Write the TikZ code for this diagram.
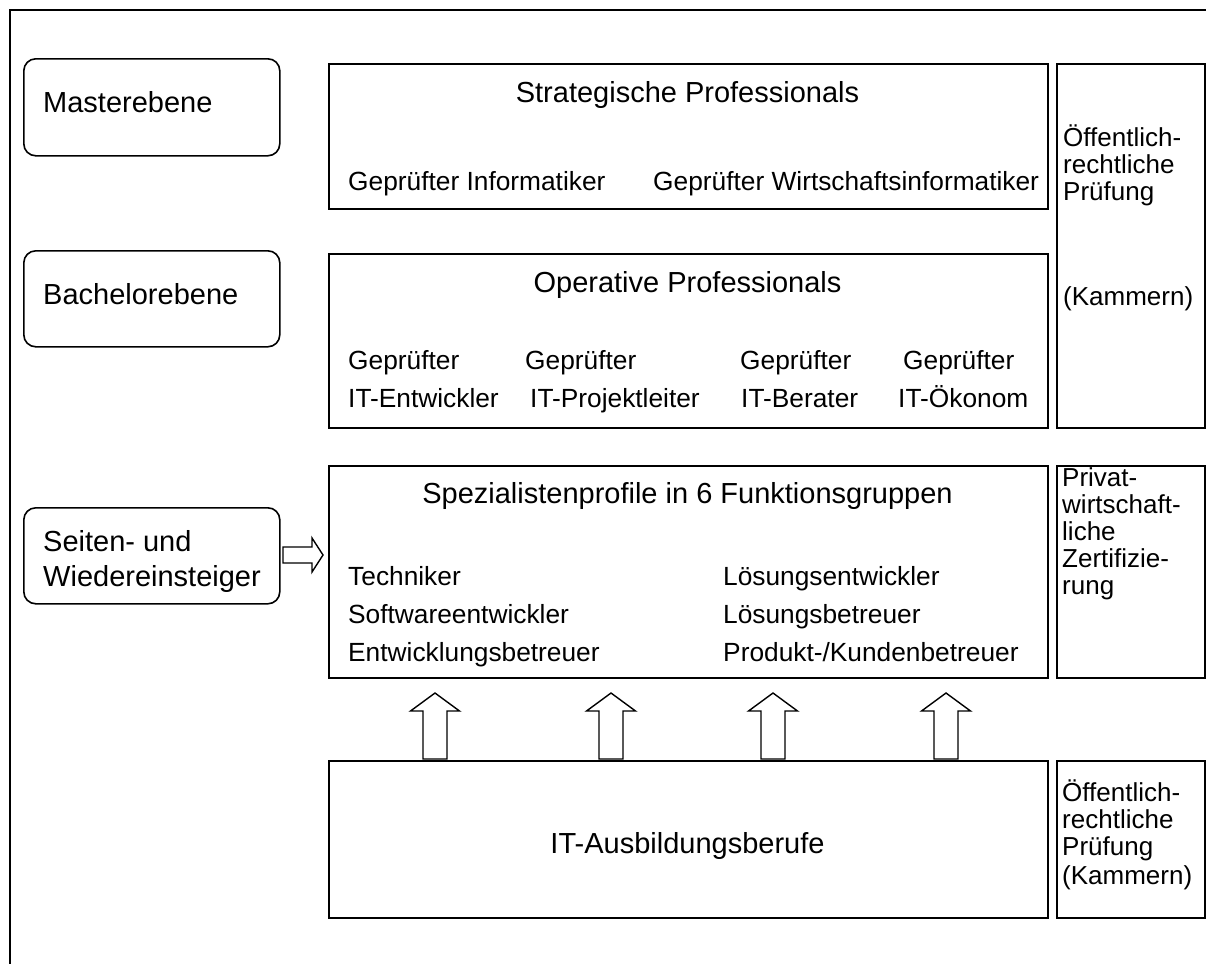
\documentclass[tikz,border=0pt]{standalone}
\usepackage{fontspec}
\setmainfont{Liberation Sans}
\begin{document}
\begin{tikzpicture}[x=1pt,y=-1pt,
  frame/.style={line width=1.8pt},
  box/.style={draw,line width=1.6pt,inner sep=0pt,anchor=north west},
  rbox/.style={box,rounded corners=12pt},
  ttl/.style={font=\fontsize{29}{34}\selectfont,inner sep=0pt,anchor=base},
  itm/.style={font=\fontsize{26.3}{30}\selectfont,inner sep=0pt,anchor=base west},
  lvl/.style={font=\fontsize{29}{34}\selectfont,inner sep=0pt,anchor=base west},
  side/.style={font=\fontsize{26}{30}\selectfont,inner sep=0pt,anchor=base west},
  blockarrow/.style={draw,line width=1.4pt,fill=white,line join=miter}]
\useasboundingbox (0,0) rectangle (1206,964);
% outer frame
\coordinate (fTL) at (10,10);
\coordinate (fTR) at (1206,10);
\coordinate (fBL) at (10,964);
\draw[frame] (fTR) -- (fTL) -- (fBL);

% left level boxes
\node[rbox,minimum width=256pt,minimum height=97pt] (master) at (23,58) {};
\node[rbox,minimum width=256pt,minimum height=96pt] (bachelor) at (23,250) {};
\node[rbox,minimum width=256pt,minimum height=96pt] (seiten) at (23,507) {};
\node[lvl] (tMaster) at (43,112) {Masterebene};
\node[lvl] (tBachelor) at (43,304) {Bachelorebene};
\node[lvl] (tSeiten1) at (43,551) {Seiten- und};
\node[lvl] (tSeiten2) at (43,586) {Wiedereinsteiger};

% main boxes
\node[box,minimum width=719pt,minimum height=145pt] (strat) at (328,63) {};
\node[box,minimum width=719pt,minimum height=174pt] (oper) at (328,253) {};
\node[box,minimum width=719pt,minimum height=212pt] (spez) at (328,465) {};
\node[box,minimum width=719pt,minimum height=157pt] (ausb) at (328,760) {};

% right boxes
\node[box,minimum width=148pt,minimum height=364pt] (oeff1) at (1056,63) {};
\node[box,minimum width=148pt,minimum height=212pt] (priv) at (1056,465) {};
\node[box,minimum width=148pt,minimum height=157pt] (oeff2) at (1056,760) {};

% Strategische
\node[ttl] (tStrat) at (687.5,102) {Strategische Professionals};
\node[itm] (sI1) at (348,190) {Geprüfter Informatiker};
\node[itm] (sI2) at (653,190) {Geprüfter Wirtschaftsinformatiker};

% Operative
\node[ttl] (tOper) at (687.5,292) {Operative Professionals};
\node[itm] (o1a) at (348,369) {Geprüfter};
\node[itm] (o1b) at (348,407) {IT-Entwickler};
\node[itm] (o2a) at (525,369) {Geprüfter};
\node[itm] (o2b) at (530,407) {IT-Projektleiter};
\node[itm] (o3a) at (740,369) {Geprüfter};
\node[itm] (o3b) at (741,407) {IT-Berater};
\node[itm] (o4a) at (903,369) {Geprüfter};
\node[itm] (o4b) at (898,407) {IT-Ökonom};

% Spezialisten
\node[ttl] (tSpez) at (687.5,503) {Spezialistenprofile in 6 Funktionsgruppen};
\node[itm] (p1) at (348,585) {Techniker};
\node[itm] (p2) at (348,623) {Softwareentwickler};
\node[itm] (p3) at (348,661) {Entwicklungsbetreuer};
\node[itm] (p4) at (723,585) {Lösungsentwickler};
\node[itm] (p5) at (723,623) {Lösungsbetreuer};
\node[itm] (p6) at (723,661) {Produkt-/Kundenbetreuer};

% Ausbildung
\node[ttl] (tAusb) at (687.5,853) {IT-Ausbildungsberufe};

% right texts
\node[side] (r1a) at (1063,146) {Öffentlich-};
\node[side] (r1b) at (1063,173) {rechtliche};
\node[side] (r1c) at (1063,200) {Prüfung};
\node[side] (r1d) at (1063,305) {(Kammern)};
\node[side] (r2a) at (1062,486) {Privat-};
\node[side] (r2b) at (1062,513) {wirtschaft-};
\node[side] (r2c) at (1062,540) {liche};
\node[side] (r2d) at (1062,567) {Zertifizie-};
\node[side] (r2e) at (1062,594) {rung};
\node[side] (r3a) at (1062,801) {Öffentlich-};
\node[side] (r3b) at (1062,828) {rechtliche};
\node[side] (r3c) at (1062,855) {Prüfung};
\node[side] (r3d) at (1062,884) {(Kammern)};

% block arrows
\draw[blockarrow] (283,547) -- (312,547) -- (312,538) -- (323,555) -- (312,572) -- (312,563) -- (283,563) -- cycle;
\foreach \cx in {435,611,773,946}{
  \draw[blockarrow] (\cx-12,759) -- (\cx-12,711) -- (\cx-24.5,711) -- (\cx,693) -- (\cx+24.5,711) -- (\cx+12,711) -- (\cx+12,759) -- cycle;
}
\end{tikzpicture}
\end{document}
